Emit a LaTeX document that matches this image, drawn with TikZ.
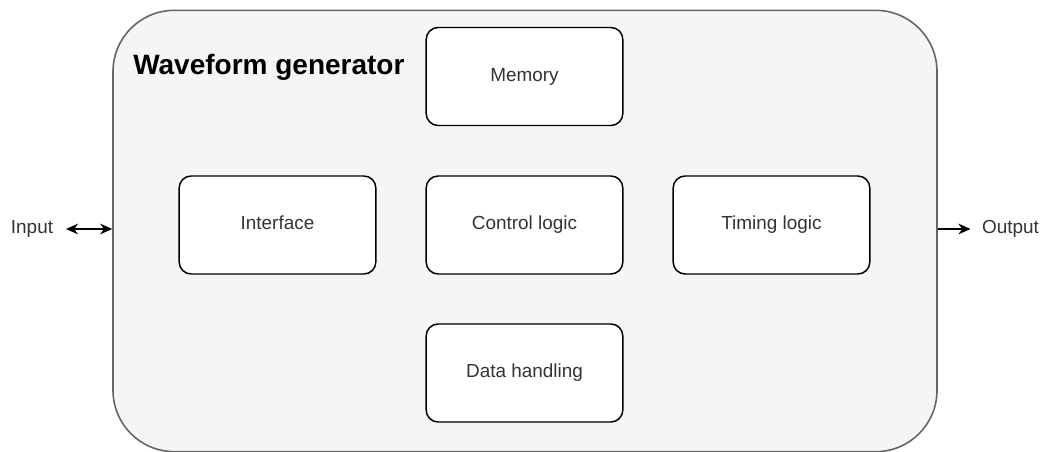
\documentclass[tikz,border=0pt]{standalone}
\usepackage{fontspec}
\setmainfont{Liberation Sans}
\usetikzlibrary{arrows.meta}
\definecolor{contfill}{HTML}{F5F5F5}
\definecolor{contline}{HTML}{666666}
\definecolor{txt}{HTML}{333333}
\begin{document}
\begin{tikzpicture}[x=0.75pt,y=-0.75pt,
  >={Stealth[length=9pt,width=8pt,inset=2.8pt]},
  container/.style={draw=contline, fill=contfill, line width=1.2pt, rounded corners=46pt, minimum width=618pt, minimum height=331pt, inner sep=0pt},
  block/.style={draw=black, fill=white, line width=1.1pt, rounded corners=9pt, minimum width=147.5pt, minimum height=73.5pt, inner sep=0pt, font=\fontsize{14.2pt}{17pt}\selectfont, text=txt, text height=10.2pt, text depth=2.8pt},
  lbl/.style={inner sep=0pt, font=\fontsize{14.2pt}{17pt}\selectfont, text=txt, text height=10.2pt, text depth=2.8pt},
  conn/.style={line width=1.1pt, black}
]
\useasboundingbox (0,0) rectangle (1045,452);
\node[container] (wg) at (525,231) {};
\node[anchor=base west, inner sep=0pt, font=\fontsize{21pt}{25pt}\selectfont\bfseries] (title) at (133,75) {Waveform generator};
\node[block] (mem) at (524.5,76.5) {Memory};
\node[block] (intf) at (277.5,225) {Interface};
\node[block] (ctrl) at (524.5,225) {Control logic};
\node[block] (tim) at (771.5,225) {Timing logic};
\node[block] (data) at (524.5,373) {Data handling};
\node[lbl] (inp) at (32,229) {Input};
\node[lbl] (outp) at (1010.5,229) {Output};
\draw[conn, <->, shorten <=9.5pt] (inp.east) -- (inp.east -| wg.west);
\draw[conn, ->, shorten >=8.5pt] (outp.west -| wg.east) -- (outp.west);
\end{tikzpicture}
\end{document}
